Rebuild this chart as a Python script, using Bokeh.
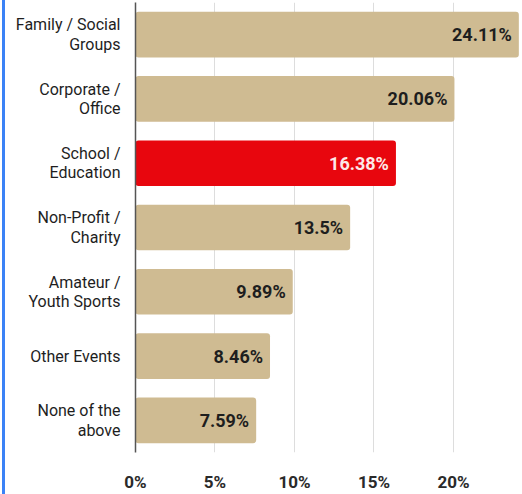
from bokeh.plotting import figure
from bokeh.models import Range1d, ColumnDataSource, FixedTicker, LabelSet
from bokeh.core.properties import value
from bokeh.embed import file_html
from bokeh.resources import INLINE

categories = [
    "Family / Social\nGroups",
    "Corporate /\nOffice",
    "School /\nEducation",
    "Non-Profit /\nCharity",
    "Amateur /\nYouth Sports",
    "Other Events",
    "None of the\nabove",
]
shares = [24.11, 20.06, 16.38, 13.5, 9.89, 8.46, 7.59]
highlight = "School /\nEducation"
tick_values = [0, 5, 10, 15, 20]
tick_labels = ["0%", "5%", "10%", "15%", "20%"]

TAN = "#cfbb92"
RED = "#e8060e"
FONT = "Roboto"

n = len(categories)
ypos = [n - 1 - i for i in range(n)]          # first category on top
colors = [RED if c == highlight else TAN for c in categories]
label_colors = ["#fde8e8" if c == highlight else "#1e1e1e" for c in categories]
labels = [f"{v:g}%" for v in shares]

src = ColumnDataSource(dict(y=ypos, val=shares, color=colors,
                            lab=labels, lab_color=label_colors))

HEIGHT, TOP, BOTTOM = 494, 2, 29
unit_px = (HEIGHT - TOP - BOTTOM) / n
line_gap = 20 / unit_px                     # 20px between label lines, in data units

p = figure(
    width=517, height=HEIGHT,
    y_range=Range1d(-0.5, n - 0.5),
    x_range=Range1d(0, 24.34),
    output_backend="svg", toolbar_location=None,
    min_border_left=130, min_border_right=0,
    min_border_top=TOP, min_border_bottom=BOTTOM,
)
p.styles = {"border-left": "3px solid #3b82f6", "margin-left": "2px"}

p.hbar(y="y", right="val", left=0, height=0.71, source=src,
       fill_color="color", line_color=None, border_radius=3)

# value labels inside the bar ends
p.add_layout(LabelSet(x="val", y="y", text="lab", source=src,
                      x_offset=-7, text_align="right", text_baseline="middle",
                      text_color="lab_color", text_font=value(FONT),
                      text_font_size="18px", text_font_style="bold"))

# category labels: one axis tick per text line, so every line is right-aligned
cat_ticks, cat_text = [], []
for c, y in zip(categories, ypos):
    parts = c.split("\n")
    k = len(parts)
    for i, t in enumerate(parts):
        cat_ticks.append(y + ((k - 1) / 2 - i) * line_gap)
        cat_text.append(t)

p.outline_line_color = None
p.background_fill_color = "white"
p.border_fill_color = "white"

p.ygrid.grid_line_color = None
p.xgrid.grid_line_color = "#dddddd"
p.xgrid.grid_line_width = 1
p.xgrid.ticker = FixedTicker(ticks=tick_values)

p.xaxis.ticker = FixedTicker(ticks=tick_values)
p.xaxis.major_label_overrides = dict(zip(tick_values, tick_labels))
p.xaxis.axis_line_color = None
p.xaxis.major_tick_line_color = None
p.xaxis.minor_tick_line_color = None
p.xaxis.major_label_standoff = 13
p.xaxis.major_label_text_font = FONT
p.xaxis.major_label_text_font_size = "17px"
p.xaxis.major_label_text_font_style = "bold"
p.xaxis.major_label_text_color = "#2a2a2a"

p.yaxis.ticker = FixedTicker(ticks=cat_ticks)
p.yaxis.major_label_overrides = dict(zip(cat_ticks, cat_text))
p.yaxis.axis_line_color = "#555555"
p.yaxis.axis_line_width = 1.5
p.yaxis.major_tick_line_color = None
p.yaxis.minor_tick_line_color = None
p.yaxis.major_label_standoff = 9
p.yaxis.major_label_text_font = FONT
p.yaxis.major_label_text_font_size = "16px"
p.yaxis.major_label_text_color = "#1e1e1e"

open("out.html", "w").write(file_html(p, INLINE))
